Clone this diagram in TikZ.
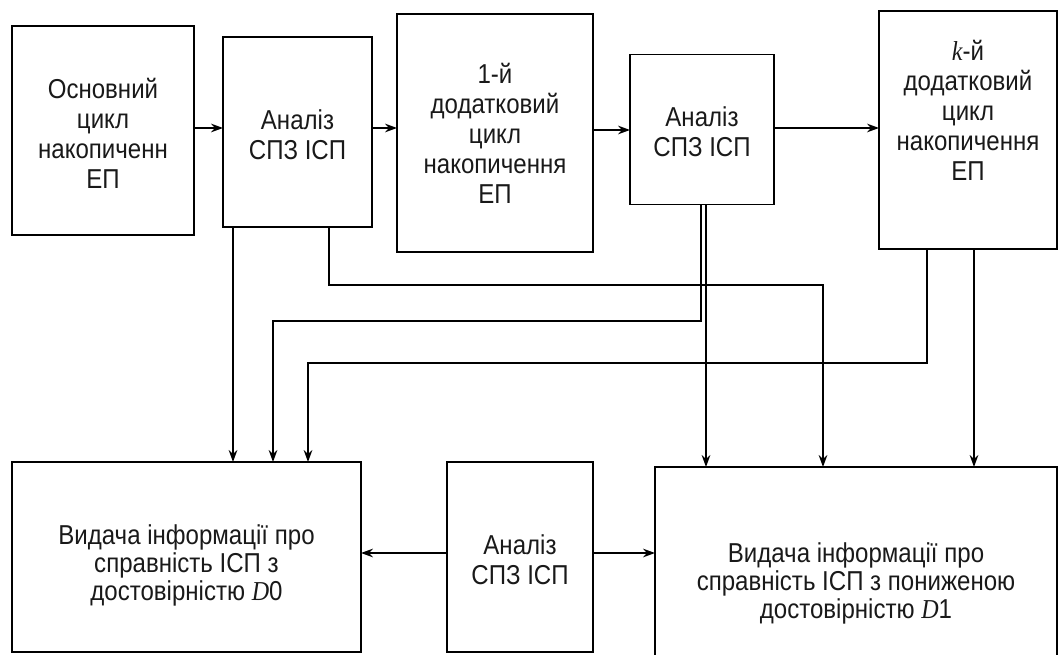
\documentclass[tikz,border=0pt]{standalone}
\usepackage{fontspec}
\setmainfont{Liberation Sans}[FakeStretch=0.88]
\newfontfamily\serifface{Liberation Serif}[FakeStretch=0.88]
\usetikzlibrary{arrows.meta,calc}
\newcommand{\itvar}[1]{{\serifface\itshape #1}}
\begin{document}
\begin{tikzpicture}[x=0.75pt,y=-0.75pt,
  blk/.style 2 args={draw, line width=1pt, minimum width=#1*0.75pt,
    minimum height=#2*0.75pt, inner sep=0pt, outer sep=0pt},
  txt/.style={align=center, inner sep=0pt, text=black!90, font=\fontsize{20.5}{22.5}\selectfont},
  txtb/.style={align=center, inner sep=0pt, text=black!90, font=\fontsize{20.5}{21}\selectfont},
  arr/.style={line width=1pt, -{Stealth[length=9pt,width=6.5pt,inset=3pt]}}]
\useasboundingbox (0,0) rectangle (1059,655);

% upper row of blocks
\node[blk={182}{209}] (b1) at (103,130.5) {};
\node[txt] (t1) at (103,133) {Основний\\цикл\\накопиченн\\ЕП};
\node[blk={149}{190}] (b2) at (297.5,132) {};
\node[txt] (t2) at (297.5,135) {Аналіз\\СПЗ ІСП};
\node[blk={196}{238}] (b3) at (495,133) {};
\node[txt] (t3) at (495,133) {1-й\\додатковий\\цикл\\накопичення\\ЕП};
\node[blk={144}{150}] (b4) at (702,129.5) {};
\node[txt] (t4) at (702,132) {Аналіз\\СПЗ ІСП};
\node[blk={178}{238}] (b5) at (968,130) {};
\node[txt] (t5) at (968,110) {\itvar{k}-й\\додатковий\\цикл\\накопичення\\ЕП};

% lower row of blocks
\node[blk={349}{190}] (bl) at (186.5,557) {};
\node[txtb] (tl) at (186.5,565) {Видача інформації про\\справність ІСП з\\достовірністю \itvar{D}0};
\node[blk={146}{190}] (mid) at (520,557) {};
\node[txt] (tm) at (520,560) {Аналіз\\СПЗ ІСП};
\node[blk={402}{190}] (br) at (856,562) {};
\node[txtb] (tr) at (856,583) {Видача інформації про\\справність ІСП з пониженою\\достовірністю \itvar{D}1};

% chain of the upper row
\draw[arr] (b1.east |- 0,128) -- (b2.west |- 0,128);
\draw[arr] (b2.east |- 0,128) -- (b3.west |- 0,128);
\draw[arr] (b3.east |- 0,130) -- (b4.west |- 0,130);
\draw[arr] (b4.east |- 0,128) -- (b5.west |- 0,128);

% results of the analysis blocks
\draw[arr] (b2.south -| 233,0) -- (bl.north -| 233,0);
\draw[arr] (b2.south -| 329,0) |- (823,285) -- (br.north -| 823,0);
\draw[arr] (b4.south -| 701,0) |- (273,321) -- (bl.north -| 273,0);
\draw[arr] (b4.south -| 706,0) -- (br.north -| 706,0);
\draw[arr] (b5.south -| 927,0) |- (308,363) -- (bl.north -| 308,0);
\draw[arr] (b5.south -| 974,0) -- (br.north -| 974,0);

% lower analysis block
\draw[arr] (mid.west |- 0,553) -- (bl.east |- 0,553);
\draw[arr] (mid.east |- 0,553) -- (br.west |- 0,553);
\end{tikzpicture}
\end{document}
